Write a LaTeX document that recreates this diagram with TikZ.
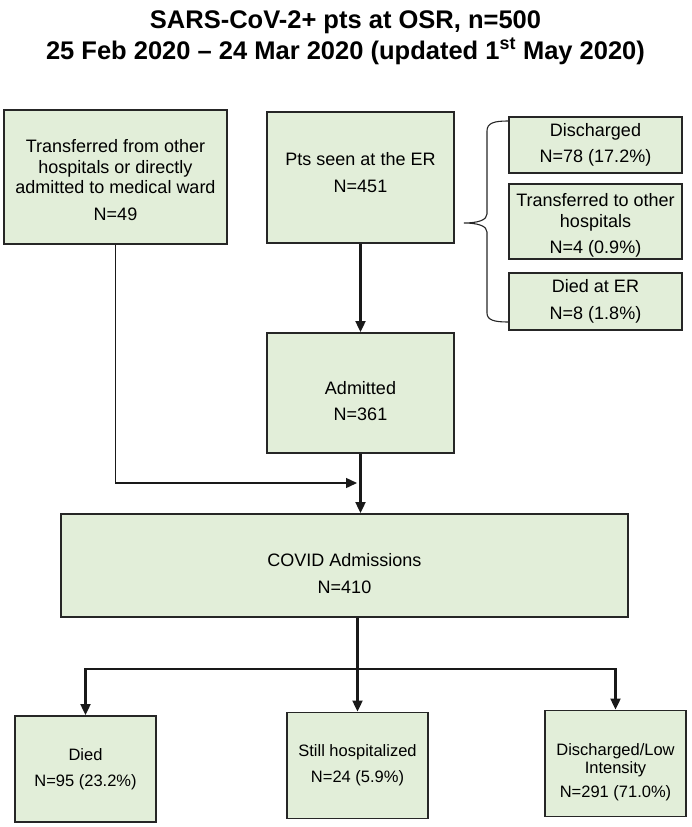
\documentclass[tikz,border=0pt]{standalone}
\usepackage{fontspec}
\setmainfont{Liberation Sans}
\usetikzlibrary{arrows.meta}
\definecolor{boxgreen}{HTML}{E2EED9}
\newcommand\boxfont{\fontsize{18}{20.5}\selectfont}
\newcommand\outfont{\fontsize{16.5}{18}\selectfont}
\newcommand\titlefont{\fontsize{25.5}{31}\selectfont\bfseries}
\begin{document}
\begin{tikzpicture}
    [x=1pt,y=-1pt,
     box/.style={draw=black!85,line width=1.9pt,fill=boxgreen,align=center,inner sep=0pt,font=\boxfont},
     sidebox/.style={box,minimum width=173pt},
     outbox/.style={box,font=\outfont,minimum width=141pt,minimum height=106pt},
     >={Triangle[length=11pt,width=10pt]},
     flow/.style={->,line width=2.1pt,black!90},
     feed/.style={->,line width=1.4pt,black!90}]
    \useasboundingbox (0,0) rectangle (691,827);

    % title
    \node (title1) at (345.5,28) [anchor=base,font=\titlefont] {SARS-CoV-2+ pts at OSR, n=500};
    \node (title2) at (345.5,59) [anchor=base,font=\titlefont] {25 Feb 2020 -- 24 Mar 2020 (updated 1\textsuperscript{st} May 2020)};

    % entry
    \node (transfer) at (115.5,177) [box,minimum width=223pt,minimum height=134pt] {\rule{0pt}{19pt}Transferred from other\\hospitals or directly\\admitted to medical ward\\[6pt]N=49};
    \node (er) at (360.5,177.5) [box,minimum width=187pt,minimum height=131pt] {Pts seen at the ER\\[6pt]N=451\rule[-10pt]{0pt}{10pt}};
    \node (erdis) at (595.5,145) [sidebox,minimum height=56pt] {Discharged\\[6pt]N=78 (17.2\%)};
    \node (ertrans) at (595.5,221.5) [sidebox,minimum height=75pt] {\rule{0pt}{21pt}Transferred to other\\hospitals\\[6pt]N=4 (0.9\%)};
    \node (erdied) at (595.5,301.5) [sidebox,minimum height=57pt] {Died at ER\\[6pt]N=8 (1.8\%)};
    \draw [line width=1.1pt,black!85] (508,121) .. controls (494,121) and (487,123) .. (487,131) -- (487,214)
        .. controls (487,220) and (478,223) .. (464,223) .. controls (478,223) and (487,226) .. (487,232)
        -- (487,313) .. controls (487,320) and (494,322) .. (508,322);

    % admissions
    \node (admitted) at (360.5,393) [box,minimum width=187pt,minimum height=120pt] {\rule{0pt}{29pt}Admitted\\[6pt]N=361};
    \node (covid) at (344.5,565.5) [box,minimum width=567pt,minimum height=103pt] {\rule{0pt}{29pt}COVID Admissions\\[6pt]N=410};
    \coordinate (merge) at (357,483);
    \draw [flow] (er) to (admitted);
    \draw [flow] (admitted.south) to (admitted.south |- covid.north);
    \draw [feed] (transfer.south) |- (merge);

    % outcomes
    \node (died) at (85.5,769) [outbox] {Died\\[8pt]N=95 (23.2\%)};
    \node (still) at (357.5,765.5) [outbox] {Still hospitalized\\[8pt]N=24 (5.9\%)};
    \node (lowint) at (615.5,763.5) [outbox] {\rule{0pt}{30pt}Discharged/Low\\Intensity\\[6pt]N=291 (71.0\%)};
    \coordinate (split) at (357.5,669);
    \draw [flow] (covid.south -| still.north) to (still.north);
    \draw [flow] (split) -| (died.north);
    \draw [flow] (split) -| (lowint.north);
  \end{tikzpicture}
\end{document}
